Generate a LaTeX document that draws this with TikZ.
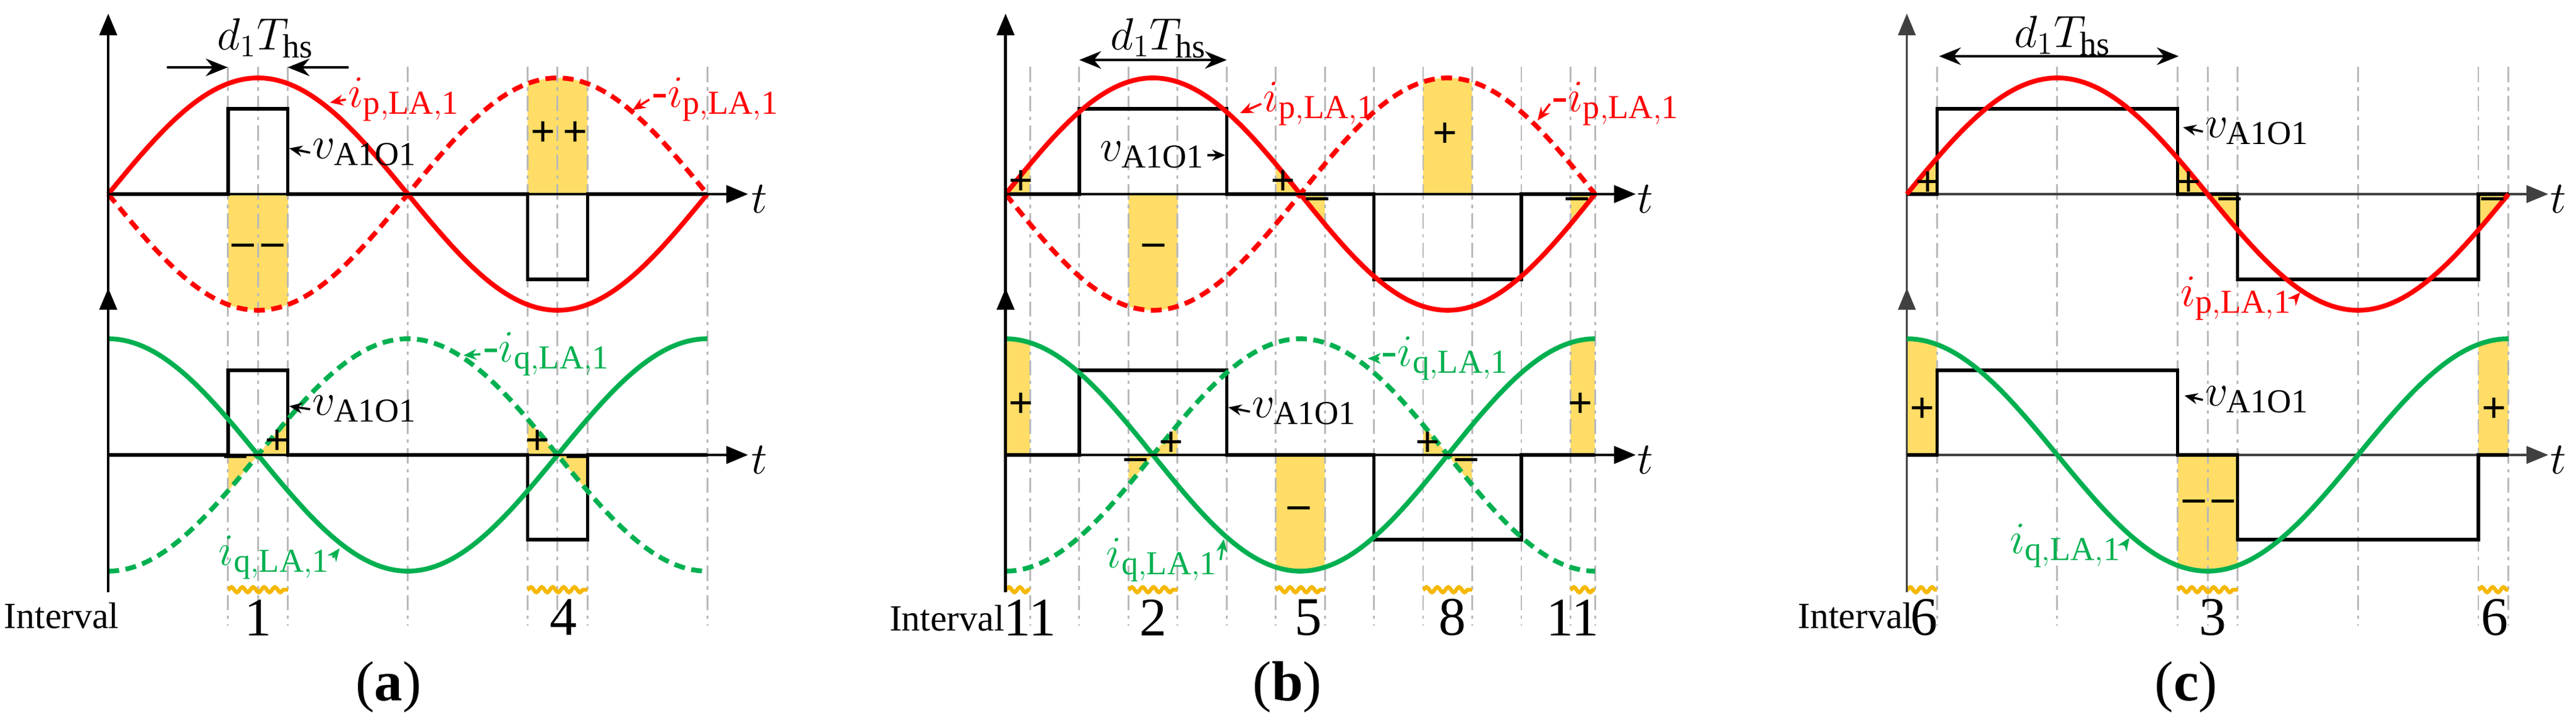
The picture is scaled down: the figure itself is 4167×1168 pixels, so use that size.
\documentclass[tikz,border=0pt]{standalone}
\usepackage{fontspec}
\setmainfont{Liberation Serif}
\usetikzlibrary{arrows.meta,decorations.pathmorphing}
\definecolor{fillc}{HTML}{FFDD66}
\definecolor{redc}{HTML}{FF0000}
\definecolor{grnc}{HTML}{00B050}
\definecolor{wavec}{HTML}{F5B800}
\definecolor{axc}{HTML}{404040}
\newcommand\fillreg[4]{\fill[fillc] plot[domain=#2:#3,samples=30] ({\xo+\x/360*\P},{#4-\A*(#1)}) -- ({\xo+#3/360*\P},#4) -- ({\xo+#2/360*\P},#4) -- cycle;}
\newcommand\gline[1]{\draw[gl] ({\xo+#1/360*\P},108) -- ({\xo+#1/360*\P},1012);}
\newcommand\wav[2]{\draw[wv] ({\xo+#1/360*\P},954) -- ({\xo+#2/360*\P},954);}
\newcommand\curve[3]{\draw[#1] plot[domain=0:360,samples=120] ({\xo+\x/360*\P},{#2-\A*(#3)});}
\newcommand\pls[6]{\draw[pulse] (\xo,#1) -- ({\xo+#2/360*\P},#1) -- ({\xo+#2/360*\P},#1-#6) -- ({\xo+#3/360*\P},#1-#6) -- ({\xo+#3/360*\P},#1) -- ({\xo+#4/360*\P},#1) -- ({\xo+#4/360*\P},#1+#6) -- ({\xo+#5/360*\P},#1+#6) -- ({\xo+#5/360*\P},#1) -- ({\xo+\P},#1);}
\newcommand\Pl{\textbf{+}}
\newcommand\Mi{\textbf{–}}
\begin{document}
\begin{tikzpicture}[x=0.01cm,y=-0.01cm,
  gl/.style={gray!55,line width=0.8pt,dash pattern=on 7pt off 2.5pt on 1.5pt off 2.5pt},
  wv/.style={wavec,line width=1.8pt,decorate,decoration={snake,amplitude=1.2pt,segment length=5pt}},
  ax/.style={line width=1.3pt,-{Triangle[length=10pt,width=8pt]}},
  pulse/.style={line width=1.5pt,black},
  solr/.style={redc,line width=2.2pt},
  dashr/.style={redc,line width=2.2pt,dash pattern=on 5pt off 3pt},
  solg/.style={grnc,line width=2.2pt},
  dashg/.style={grnc,line width=2.2pt,dash pattern=on 5pt off 3pt},
  lab/.style={font=\fontsize{22}{24}\selectfont,inner sep=1pt},
  sg/.style={font=\fontsize{20}{22}\selectfont,inner sep=0pt},
  num/.style={font=\fontsize{25}{27}\selectfont,inner sep=0pt},
  intv/.style={font=\fontsize{17}{19}\selectfont,inner sep=0pt},
  pcap/.style={font=\fontsize{26}{28}\selectfont,inner sep=0pt},
  la/.style={line width=1pt,-{Stealth[length=6pt,width=5pt]}},
  da/.style={line width=1.4pt,{Stealth[length=10pt,width=8pt]}-{Stealth[length=10pt,width=8pt]}},
  sa/.style={line width=1.4pt,-{Stealth[length=10pt,width=8pt]}}]
\useasboundingbox (0,0) rectangle (4167,1168);
\def\A{188}
% ================= (a) =================
\begin{scope}[xscale=1.1993]
\def\xo{146}\def\P{808}
\fillreg{-sin(\x)}{72}{108}{314}
\fillreg{-sin(\x)}{252}{288}{314}
\fillreg{-cos(\x)}{72}{108}{736}
\fillreg{-cos(\x)}{252}{288}{736}
\foreach \a in {72,90,108,180,252,270,288,360}{\gline{\a}}
\wav{72}{108}\wav{252}{288}
\pls{314}{72}{108}{252}{288}{138}
\pls{736}{72}{108}{252}{288}{137}
\curve{dashr}{314}{-sin(\x)}
\curve{solr}{314}{sin(\x)}
\curve{dashg}{736}{-cos(\x)}
\curve{solg}{736}{cos(\x)}
\draw[ax] (\xo,958) -- (\xo,22);
\draw[ax] (\xo,560) -- (\xo,466);
\draw[ax] (\xo,314) -- (1009,314);
\draw[ax] (\xo,736) -- (1009,736);
\node[lab] (at1) at (1024,322) {$t$};
\node[lab] (ab1) at (1024,744) {$t$};
\node[lab] (ad) at (358,62) {$d_1T_{\mathrm{hs}}$};
\coordinate (ad1) at (225,109); \coordinate (ad2) at (307,109);
\coordinate (ad3) at (470,109); \coordinate (ad4) at (388,109);
\draw[sa] (ad1) -- (ad2); \draw[sa] (ad3) -- (ad4);
\node[lab,text=redc] (aip) at (545,161) {$i_{\mathrm{p,LA,1}}$};
\coordinate (aipt) at (445,166); \draw[la,redc] (aip.west) -- (aipt);
\node[lab,text=redc] (amip) at (965,161) {-$i_{\mathrm{p,LA,1}}$};
\coordinate (amipt) at (853,178); \draw[la,redc] (amip.west) -- (amipt);
\node[lab] (av1) at (492,247) {$v_{\mathrm{A1O1}}$};
\coordinate (av1t) at (390,240); \draw[la] (av1.west) -- (av1t);
\node[lab] (av2) at (492,662) {$v_{\mathrm{A1O1}}$};
\coordinate (av2t) at (390,657); \draw[la] (av2.west) -- (av2t);
\node[lab,text=grnc] (amiq) at (737,573) {-$i_{\mathrm{q,LA,1}}$};
\coordinate (amiqt) at (625,575); \draw[la,grnc] (amiq.west) -- (amiqt);
\node[lab,text=grnc] (aiq) at (370,902) {$i_{\mathrm{q,LA,1}}$};
\coordinate (aiqt) at (458,887); \draw[la,grnc] (aiq.east) -- (aiqt);
\node[sg] (as1) at (348,404) {\Mi\,\Mi};
\node[sg] (as2) at (754,217) {\Pl\,\Pl};
\node[sg] (as3) at (318,746) {\Mi};
\node[sg] (as4) at (374,716) {\Pl};
\node[sg] (as5) at (725,716) {\Pl};
\node[sg] (as6) at (780,746) {\Mi};
\node[intv] (aint) at (83,996) {Interval};
\node[num] (an1) at (348,999) {1};
\node[num] (an4) at (760,999) {4};
\node[pcap] (acap) at (524,1112) {(\textbf{a})};
\end{scope}
% ================= (b) =================
\begin{scope}[shift={(1400,0)},xscale=1.1993,shift={(-1400,0)}]
\def\xo{1589}\def\P{795}
\fillreg{sin(\x)}{0}{15}{314}
\fillreg{-sin(\x)}{75}{105}{314}
\fillreg{sin(\x)}{165}{195}{314}
\fillreg{-sin(\x)}{255}{285}{314}
\fillreg{sin(\x)}{345}{360}{314}
\fillreg{cos(\x)}{0}{15}{736}
\fillreg{-cos(\x)}{75}{105}{736}
\fillreg{cos(\x)}{165}{195}{736}
\fillreg{-cos(\x)}{255}{285}{736}
\fillreg{cos(\x)}{345}{360}{736}
\foreach \a in {15,45,75,105,135,165,195,225,255,285,315,345,360}{\gline{\a}}
\wav{0}{15}\wav{75}{105}\wav{165}{195}\wav{255}{285}\wav{345}{360}
\pls{314}{45}{135}{225}{315}{138}
\pls{736}{45}{135}{225}{315}{137}
\curve{dashr}{314}{-sin(\x)}
\curve{solr}{314}{sin(\x)}
\curve{dashg}{736}{-cos(\x)}
\curve{solg}{736}{cos(\x)}
\draw[ax] (\xo,958) -- (\xo,22);
\draw[ax] (\xo,560) -- (\xo,466);
\draw[ax] (\xo,314) -- (2439,314);
\draw[ax] (\xo,736) -- (2439,736);
\node[lab] (bt1) at (2452,322) {$t$};
\node[lab] (bt2) at (2452,744) {$t$};
\node[lab] (bd) at (1795,62) {$d_1T_{\mathrm{hs}}$};
\coordinate (bd1) at (1688,97); \coordinate (bd2) at (1887,97);
\draw[da] (bd1) -- (bd2);
\node[lab,text=redc] (bip) at (2012,168) {$i_{\mathrm{p,LA,1}}$};
\coordinate (bipt) at (1905,183); \draw[la,redc] (bip.west) -- (bipt);
\node[lab,text=redc] (bmip) at (2412,168) {-$i_{\mathrm{p,LA,1}}$};
\coordinate (bmipt) at (2306,195); \draw[la,redc] (bmip.west) -- (bmipt);
\node[lab] (bv1) at (1787,251) {$v_{\mathrm{A1O1}}$};
\coordinate (bv1t) at (1885,251); \draw[la] (bv1.east) -- (bv1t);
\node[lab] (bv2) at (1992,666) {$v_{\mathrm{A1O1}}$};
\coordinate (bv2t) at (1889,659); \draw[la] (bv2.west) -- (bv2t);
\node[lab,text=grnc] (bmiq) at (2182,580) {-$i_{\mathrm{q,LA,1}}$};
\coordinate (bmiqt) at (2077,580); \draw[la,grnc] (bmiq.west) -- (bmiqt);
\node[lab,text=grnc] (biq) at (1800,906) {$i_{\mathrm{q,LA,1}}$};
\coordinate (biqt) at (1883,872); \draw[la,grnc] (biq.east) -- (biqt);
\node[sg] (bs1) at (1610,296) {\Pl};
\node[sg] (bs2) at (1789,404) {\Mi};
\node[sg] (bs3) at (1963,296) {\Pl};
\node[sg] (bs4) at (2010,329) {\Mi};
\node[sg] (bs5) at (2182,219) {\Pl};
\node[sg] (bs6) at (2360,329) {\Mi};
\node[sg] (bs7) at (1610,656) {\Pl};
\node[sg] (bs8) at (1765,751) {\Mi};
\node[sg] (bs9) at (1812,719) {\Pl};
\node[sg] (bs10) at (1985,829) {\Mi};
\node[sg] (bs11) at (2158,719) {\Pl};
\node[sg] (bs12) at (2211,751) {\Mi};
\node[sg] (bs13) at (2364,656) {\Pl};
\node[intv] (bint) at (1510,1000) {Interval};
\node[num] (bn11a) at (1622,999) {11};
\node[num] (bn2) at (1788,999) {2};
\node[num] (bn5) at (1997,999) {5};
\node[num] (bn8) at (2192,999) {8};
\node[num] (bn11b) at (2354,999) {11};
\node[pcap] (bcap) at (1969,1112) {(\textbf{b})};
\end{scope}
% ================= (c) =================
\begin{scope}[shift={(2800,0)},xscale=1.171,shift={(-2800,0)}]
\def\xo{3043}\def\P{831}
\fillreg{sin(\x)}{0}{18}{314}
\fillreg{sin(\x)}{162}{198}{314}
\fillreg{sin(\x)}{342}{360}{314}
\fillreg{cos(\x)}{0}{18}{736}
\fillreg{cos(\x)}{162}{198}{736}
\fillreg{cos(\x)}{342}{360}{736}
\foreach \a in {18,90,162,180,198,270,342,360}{\gline{\a}}
\wav{0}{18}\wav{162}{198}\wav{342}{360}
\draw[ax,axc,line width=1pt] (\xo,958) -- (\xo,22);
\draw[ax,axc,line width=1pt] (\xo,560) -- (\xo,466);
\draw[ax,axc,line width=1pt] (\xo,314) -- (3929,314);
\draw[ax,axc,line width=1pt] (\xo,736) -- (3929,736);
\pls{314}{18}{162}{198}{342}{138}
\pls{736}{18}{162}{198}{342}{137}
\curve{solr}{314}{sin(\x)}
\curve{solg}{736}{cos(\x)}
\node[lab] (ct1) at (3943,322) {$t$};
\node[lab] (ct2) at (3943,744) {$t$};
\node[lab] (cd) at (3258,58) {$d_1T_{\mathrm{hs}}$};
\coordinate (cd1) at (3087,91); \coordinate (cd2) at (3418,91);
\draw[da] (cd1) -- (cd2);
\node[lab] (cv1) at (3527,213) {$v_{\mathrm{A1O1}}$};
\coordinate (cv1t) at (3424,206); \draw[la] (cv1.west) -- (cv1t);
\node[lab] (cv2) at (3527,647) {$v_{\mathrm{A1O1}}$};
\coordinate (cv2t) at (3426,640); \draw[la] (cv2.west) -- (cv2t);
\node[lab,text=redc] (cip) at (3498,483) {$i_{\mathrm{p,LA,1}}$};
\coordinate (cipt) at (3586,473); \draw[la,redc] (cip.east) -- (cipt);
\node[lab,text=grnc] (ciq) at (3262,883) {$i_{\mathrm{q,LA,1}}$};
\coordinate (ciqt) at (3350,870); \draw[la,grnc] (ciq.east) -- (ciqt);
\node[sg] (cs1) at (3072,298) {\Pl};
\node[sg] (cs2) at (3432,298) {\Pl};
\node[sg] (cs3) at (3489,329) {\Mi};
\node[sg] (cs4) at (3852,329) {\Mi};
\node[sg] (cs5) at (3064,664) {\Pl};
\node[sg] (cs6) at (3460,818) {\Mi\,\Mi};
\node[sg] (cs7) at (3854,664) {\Pl};
\node[intv] (cint) at (2972,996) {Interval};
\node[num] (cn6a) at (3067,999) {6};
\node[num] (cn3) at (3466,999) {3};
\node[num] (cn6b) at (3855,999) {6};
\node[pcap] (ccap) at (3429,1112) {(\textbf{c})};
\end{scope}
\end{tikzpicture}
\end{document}
